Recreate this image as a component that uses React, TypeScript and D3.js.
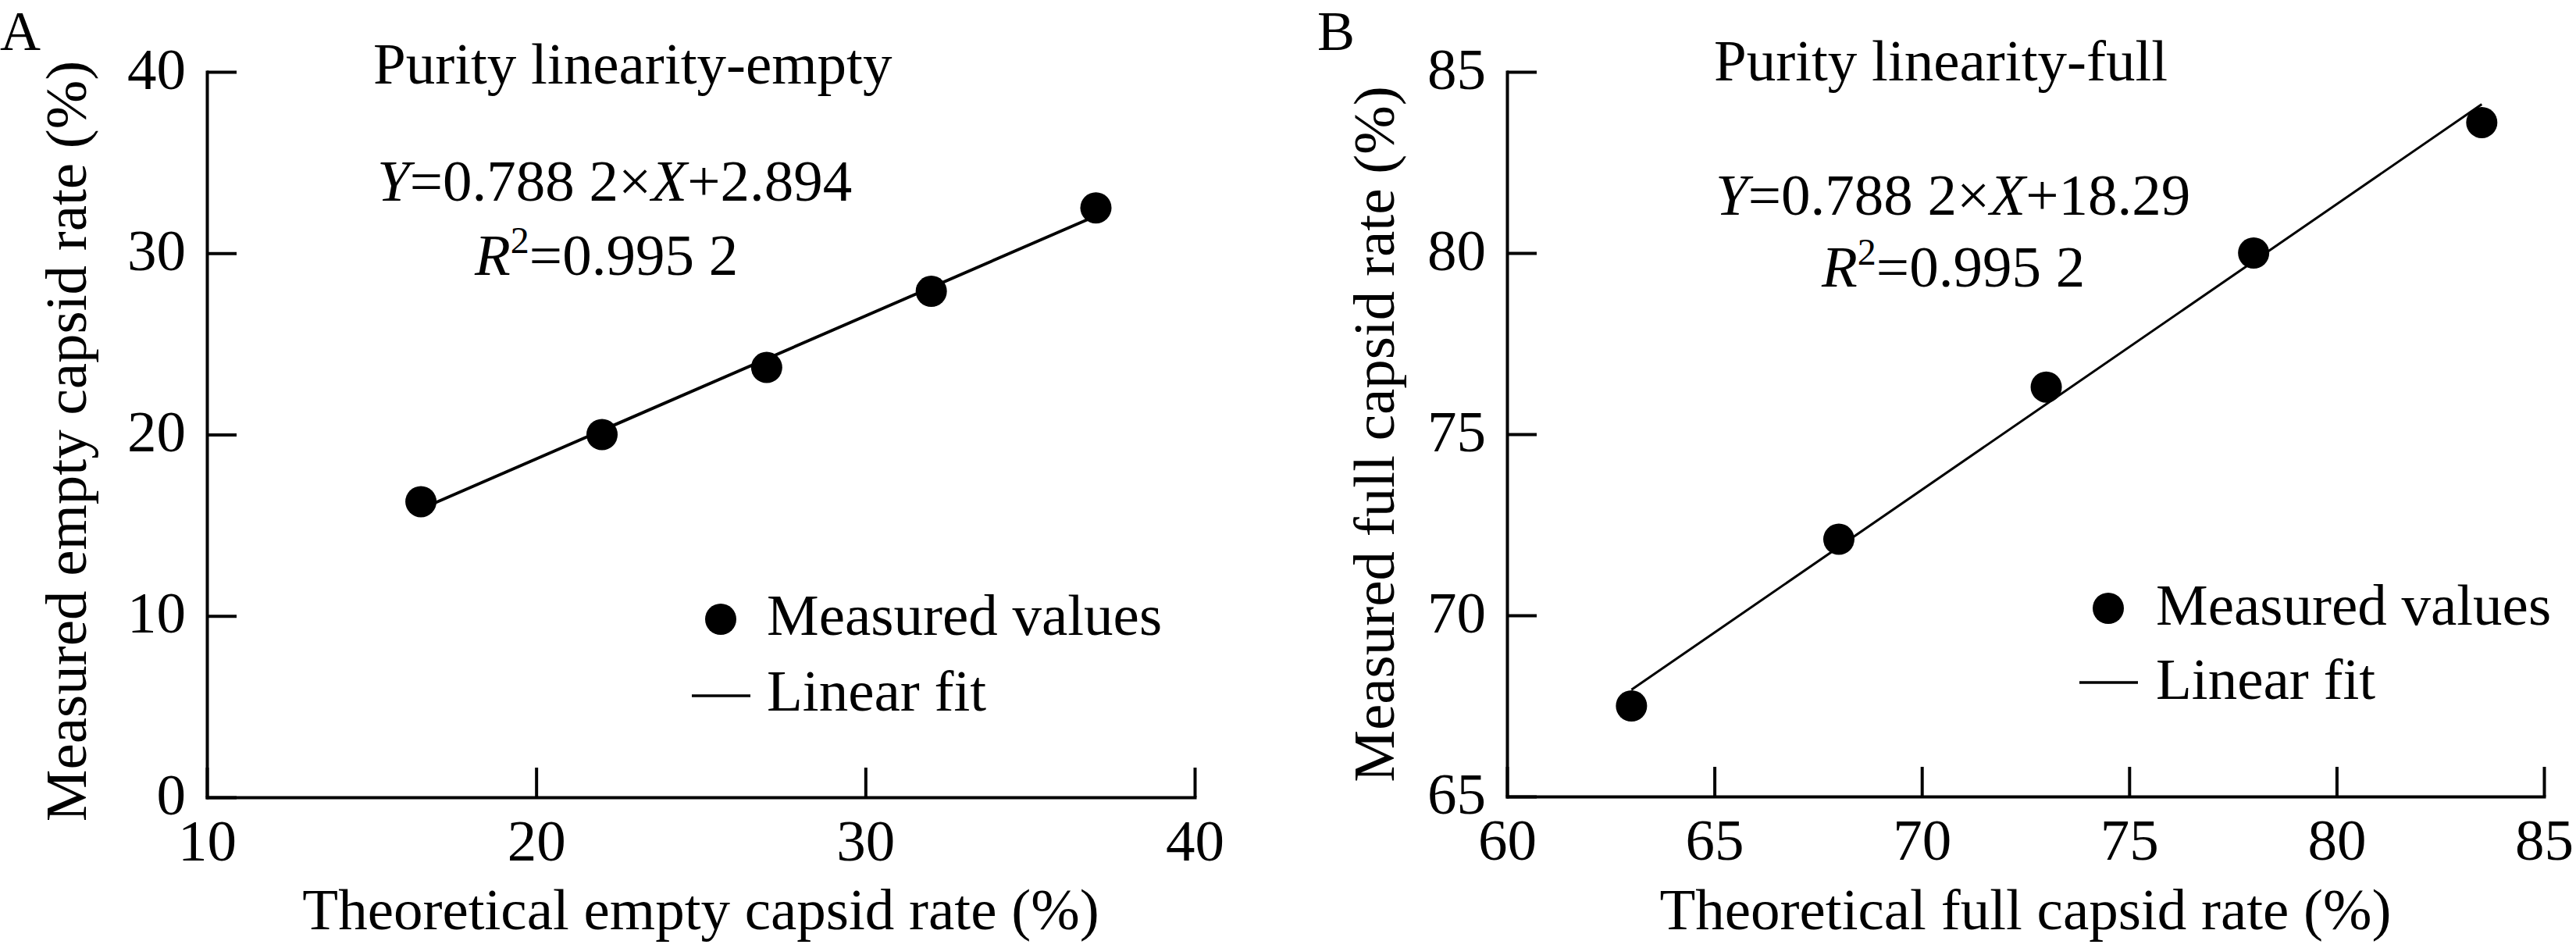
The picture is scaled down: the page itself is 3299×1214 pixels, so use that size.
import React, { useEffect, useRef } from "react";
import * as d3 from "d3";

const FONT = "'Liberation Serif', 'Times New Roman', serif";
const W = 3299;
const H = 1214;

// ---- data ----
const theoreticalEmpty = [16.5, 22, 27, 32, 37];
const measuredEmpty = [16.3, 20.0, 23.7, 27.9, 32.5];
const fitEmpty = { slope: 0.7882, intercept: 2.894 };
const xTicksEmpty = [10, 20, 30, 40];
const yTicksEmpty = [0, 10, 20, 30, 40];

const theoreticalFull = [63, 68, 73, 78, 83.5];
const measuredFull = [67.5, 72.1, 76.3, 80.0, 83.6];
const fitFull = { slope: 0.7882, intercept: 18.29 };
const xTicksFull = [60, 65, 70, 75, 80, 85];
const yTicksFull = [65, 70, 75, 80, 85];

const legendLabels = ["Measured values", "Linear fit"];

type PanelProps = {
  letter: string;
  letterX: number;
  xDomain: [number, number];
  yDomain: [number, number];
  xRange: [number, number];
  yRange: [number, number];
  xTicks: number[];
  yTicks: number[];
  xs: number[];
  ys: number[];
  fit: { slope: number; intercept: number };
  title: string;
  titlePos: [number, number];
  eqPos: [number, number];
  r2Pos: [number, number];
  intercept: string;
  xTitle: string;
  yTitle: string;
  yTitleX: number;
  yTitleY: number;
  legendDot: [number, number];
  legendLineY: number;
  legendTextX: number;
  legendTextY: [number, number];
  fitWidth: number;
};

function Panel(p: PanelProps) {
  const gx = useRef<SVGGElement>(null);
  const gy = useRef<SVGGElement>(null);
  const x = d3.scaleLinear().domain(p.xDomain).range(p.xRange);
  const y = d3.scaleLinear().domain(p.yDomain).range(p.yRange);

  useEffect(() => {
    const ax = d3
      .axisBottom(x)
      .tickValues(p.xTicks)
      .tickSizeInner(-38)
      .tickSizeOuter(0)
      .tickPadding(28)
      .tickFormat(d3.format("d"));
    const sx = d3.select(gx.current!).call(ax as any);
    sx.attr("font-size", 75).attr("font-family", FONT);
    sx.select(".domain").attr("stroke", "#000").attr("stroke-width", 4).attr("stroke-linecap", "square");
    sx.selectAll(".tick line").attr("stroke", "#000").attr("stroke-width", 4);
    sx.selectAll(".tick text").attr("fill", "#000");

    const ay = d3
      .axisLeft(y)
      .tickValues(p.yTicks)
      .tickSizeInner(-38)
      .tickSizeOuter(0)
      .tickPadding(27)
      .tickFormat(d3.format("d"));
    const sy = d3.select(gy.current!).call(ay as any);
    sy.attr("font-size", 75).attr("font-family", FONT);
    sy.select(".domain").attr("stroke", "#000").attr("stroke-width", 4).attr("stroke-linecap", "square");
    sy.selectAll(".tick line").attr("stroke", "#000").attr("stroke-width", 4);
    sy.selectAll(".tick text").attr("fill", "#000").attr("dy", "0.28em");
  });

  const x0 = d3.min(p.xs)!;
  const x1 = d3.max(p.xs)!;
  const fitPts: [number, number][] = [x0, x1].map((v) => [v, p.fit.slope * v + p.fit.intercept]);
  const line = d3
    .line<[number, number]>()
    .x((d) => x(d[0]))
    .y((d) => y(d[1]));

  const xMid = (p.xRange[0] + p.xRange[1]) / 2;

  return (
    <g fontFamily={FONT} fill="#000">
      <text x={p.letterX} y={64} fontSize={72}>
        {p.letter}
      </text>
      <g ref={gx} transform={`translate(0,${p.yRange[0]})`} />
      <g ref={gy} transform={`translate(${p.xRange[0]},0)`} />

      <path d={line(fitPts)!} fill="none" stroke="#000" strokeWidth={p.fitWidth} />
      {p.xs.map((v, i) => (
        <circle key={i} cx={x(v)} cy={y(p.ys[i])} r={20} fill="#000" />
      ))}

      <text x={p.titlePos[0]} y={p.titlePos[1]} fontSize={75}>
        {p.title}
      </text>
      <text x={p.eqPos[0]} y={p.eqPos[1]} fontSize={75}>
        <tspan fontStyle="italic">Y</tspan>
        <tspan>=0.788 2×</tspan>
        <tspan fontStyle="italic">X</tspan>
        <tspan>+{p.intercept}</tspan>
      </text>
      <text x={p.r2Pos[0]} y={p.r2Pos[1]} fontSize={75}>
        <tspan fontStyle="italic">R</tspan>
        <tspan fontSize={48} dy={-28}>
          2
        </tspan>
        <tspan dy={28}>=0.995 2</tspan>
      </text>

      <circle cx={p.legendDot[0]} cy={p.legendDot[1]} r={20} fill="#000" />
      <line
        x1={p.legendDot[0] - 37}
        x2={p.legendDot[0] + 38}
        y1={p.legendLineY}
        y2={p.legendLineY}
        stroke="#000"
        strokeWidth={3.5}
      />
      <text x={p.legendTextX} y={p.legendTextY[0]} fontSize={75}>
        {legendLabels[0]}
      </text>
      <text x={p.legendTextX} y={p.legendTextY[1]} fontSize={75}>
        {legendLabels[1]}
      </text>

      <text x={xMid} y={1190} fontSize={75} textAnchor="middle">
        {p.xTitle}
      </text>
      <text
        transform={`translate(${p.yTitleX},${p.yTitleY}) rotate(-90)`}
        fontSize={75}
        textAnchor="middle"
      >
        {p.yTitle}
      </text>
    </g>
  );
}

export default function App() {
  return (
    <svg
      width={W}
      height={H}
      viewBox={`0 0 ${W} ${H}`}
      style={{ position: "absolute", left: 0, top: 0, background: "#fff" }}
    >
      <rect width={W} height={H} fill="#fff" />
      <Panel
        letter="A"
        letterX={0}
        xDomain={[10, 40]}
        yDomain={[0, 40]}
        xRange={[265, 1530]}
        yRange={[1021, 92]}
        xTicks={xTicksEmpty}
        yTicks={yTicksEmpty}
        xs={theoreticalEmpty}
        ys={measuredEmpty}
        fit={fitEmpty}
        title="Purity linearity-empty"
        titlePos={[478, 107]}
        eqPos={[483, 257]}
        r2Pos={[608, 352]}
        intercept="2.894"
        xTitle="Theoretical empty capsid rate (%)"
        yTitle="Measured empty capsid rate (%)"
        yTitleX={110}
        yTitleY={565}
        legendDot={[923, 793]}
        legendLineY={891}
        legendTextX={982}
        legendTextY={[813, 910]}
        fitWidth={4}
      />
      <Panel
        letter="B"
        letterX={1687}
        xDomain={[60, 85]}
        yDomain={[65, 85]}
        xRange={[1930, 3258]}
        yRange={[1020, 92]}
        xTicks={xTicksFull}
        yTicks={yTicksFull}
        xs={theoreticalFull}
        ys={measuredFull}
        fit={fitFull}
        title="Purity linearity-full"
        titlePos={[2195, 103]}
        eqPos={[2197, 275]}
        r2Pos={[2333, 367]}
        intercept="18.29"
        xTitle="Theoretical full capsid rate (%)"
        yTitle="Measured full capsid rate (%)"
        yTitleX={1785}
        yTitleY={556}
        legendDot={[2700, 779]}
        legendLineY={874}
        legendTextX={2761}
        legendTextY={[800, 895]}
        fitWidth={3}
      />
    </svg>
  );
}
